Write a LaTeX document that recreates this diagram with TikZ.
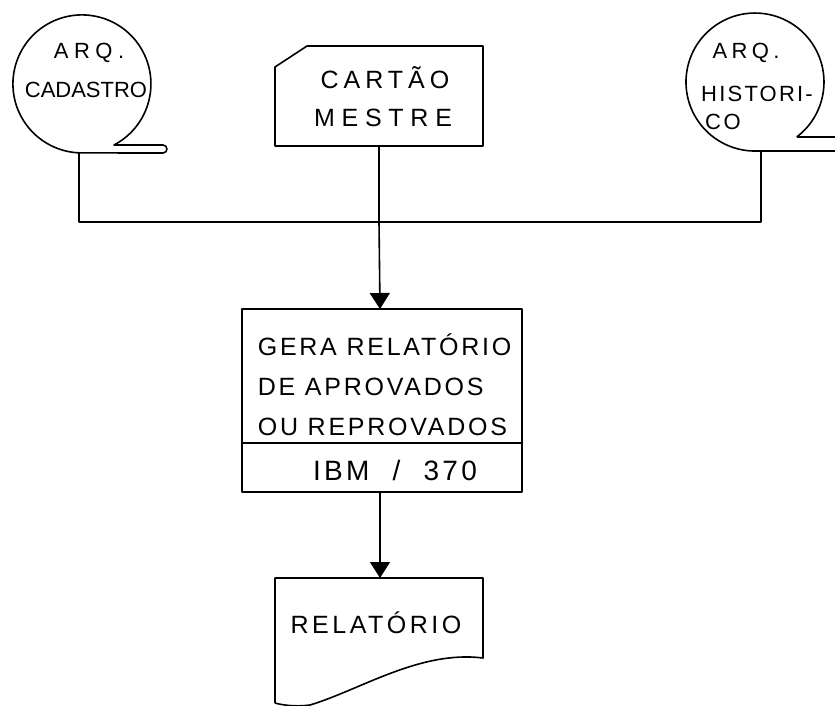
\documentclass[tikz,border=0pt]{standalone}
\usepackage{fontspec}
\setmainfont{Liberation Sans}
\usetikzlibrary{arrows.meta}
\newcommand{\hw}[2]{\fontsize{#1}{#1}\selectfont\addfontfeatures{LetterSpace=#2}}
\begin{document}
\begin{tikzpicture}[x=1pt,y=-1pt,line width=1.6pt,line join=round,
  lbl/.style={inner sep=0pt,anchor=center},
  arr/.style={-{Triangle[width=20pt,length=16pt]}},
  wire/.style={line width=1.6pt}]
\useasboundingbox (0,0) rectangle (835,706);

% ---- left magnetic tape: ARQ. CADASTRO
\draw (114,145) arc[start angle=62.3,end angle=-270,radius=69] -- (163,153)
      arc[start angle=90,end angle=-90,radius=4] -- cycle;
\node[lbl,font=\hw{22}{25}] (cadA) at (89,53) {ARQ.};
\node[lbl,font=\hw{22}{0}] (cadB) at (86,90) {CADASTRO};
\coordinate (cadOut) at (79,153);

% ---- punched card: CARTÃO MESTRE
\draw (275,67) -- (307,46) -- (483,46) -- (483,146) -- (275,146) -- cycle;
\node[lbl,font=\hw{25}{20}] (cardA) at (385,78) {CARTÃO};
\node[lbl,font=\hw{25}{27}] (cardB) at (383,118) {MESTRE};
\coordinate (cardOut) at (379,146);

% ---- right magnetic tape: ARQ. HISTORICO
\draw (796.7,137) arc[start angle=52.8,end angle=-270,radius=69] -- (835,151);
\draw (796.7,137) -- (835,137);
\node[lbl,font=\hw{22}{20}] (hisA) at (746,53) {ARQ.};
\node[lbl,font=\hw{22}{10}] (hisB) at (757,94) {HISTORI-};
\node[lbl,font=\hw{22}{12}] (hisC) at (723,122) {CO};
\coordinate (hisOut) at (761,151);

% ---- process box
\node[draw,minimum width=280pt,minimum height=183pt,inner sep=0pt] (proc) at (382,400.5) {};
\draw (proc.west |- 0,443) -- (proc.east |- 0,443);
\node[lbl,anchor=west,align=left,font=\hw{25}{11}] (procT) at (257,385)
  {GERA RELATÓRIO\\[15pt]DE APROVADOS\\[15pt]OU REPROVADOS};
\node[lbl,font=\hw{28}{12}] (cpu) at (395,470) {IBM\hspace{12pt} /\hspace{12pt} 370};
\coordinate (procIn) at (380,309);
\coordinate (procOut) at (380,492);

% ---- document: RELATÓRIO
\draw (275,703) -- (275,578) -- (483,578) -- (483,658)
      .. controls (420,650) and (360,690) .. (310,705)
      .. controls (295,707) and (282,705) .. (275,703);
\node[lbl,font=\hw{25}{14}] (rep) at (376,623) {RELATÓRIO};
\coordinate (repIn) at (380,578);

% ---- connectors
\coordinate (bus) at (379,222);
\draw[wire] (cadOut) |- (bus);
\draw[wire] (hisOut) |- (bus);
\draw[wire] (cardOut) -- (bus);
\draw[wire,arr] (bus) -- (procIn);
\draw[wire,arr] (procOut) -- (repIn);
\end{tikzpicture}
\end{document}
